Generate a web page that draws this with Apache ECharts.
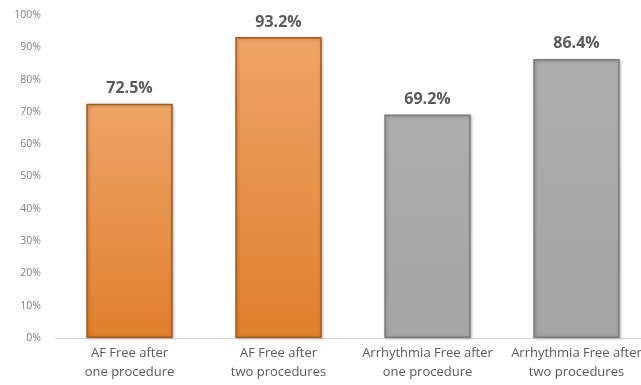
<!DOCTYPE html>
<html>
<head>
<meta charset="utf-8">
<script src="https://cdn.jsdelivr.net/npm/echarts@6/dist/echarts.min.js"></script>
<style>
  html, body { margin: 0; padding: 0; background: #fff; }
  #chart { width: 641px; height: 385px; }
</style>
</head>
<body>
<div id="chart"></div>
<script>
// 各组无房颤/无心律失常比例
const categories = [
  'AF Free after\none procedure',
  'AF Free after\ntwo procedures',
  'Arrhythmia Free after\none procedure',
  'Arrhythmia Free after\ntwo procedures'
]
const values = [72.5, 93.2, 69.2, 86.4]
const yTicks = [0, 10, 20, 30, 40, 50, 60, 70, 80, 90, 100]

const orange = {
  type: 'linear', x: 0, y: 0, x2: 0, y2: 1,
  colorStops: [{ offset: 0, color: '#eea468' }, { offset: 1, color: '#e07f2c' }]
}
const gray = {
  type: 'linear', x: 0, y: 0, x2: 0, y2: 1,
  colorStops: [{ offset: 0, color: '#adadad' }, { offset: 1, color: '#a5a5a5' }]
}

const myChart = echarts.init(document.getElementById('chart'))
const option = {
  animation: false,
  grid: { left: 55, top: 15, right: -10, bottom: 47, outerBoundsMode: 'none', containLabel: false },
  xAxis: {
    type: 'category',
    data: categories,
    axisLine: { lineStyle: { color: '#d9d9d9', width: 1 } },
    axisTick: { show: false },
    axisLabel: {
      color: '#595959',
      fontSize: 13,
      lineHeight: 19,
      margin: 6,
      interval: 0,
      fontFamily: 'Open Sans'
    }
  },
  yAxis: {
    type: 'value',
    min: yTicks[0],
    max: yTicks[yTicks.length - 1],
    interval: 10,
    splitLine: { show: false },
    axisLine: { show: false },
    axisTick: { show: false },
    axisLabel: {
      color: '#7f7f7f',
      fontSize: 10.5,
      margin: 14,
      fontFamily: 'Open Sans',
      formatter: v => v + '%'
    }
  },
  series: [
    {
      type: 'bar',
      barWidth: '58%',
      data: values.map((v, i) => ({
        value: v,
        itemStyle: {
          color: i < 2 ? orange : gray,
          borderColor: i < 2 ? '#a35a1f' : '#7a7a7a',
          borderWidth: 1.5,
          shadowColor: 'rgba(0,0,0,0.25)',
          shadowBlur: 3,
          shadowOffsetX: 1,
          shadowOffsetY: 1
        }
      })),
      label: {
        show: true,
        position: 'top',
        distance: 7,
        color: '#595959',
        fontSize: 16,
        fontWeight: 'bold',
        fontFamily: 'Open Sans',
        formatter: p => p.value.toFixed(1) + '%'
      }
    }
  ]
}
myChart.setOption(option)
</script>
</body>
</html>
